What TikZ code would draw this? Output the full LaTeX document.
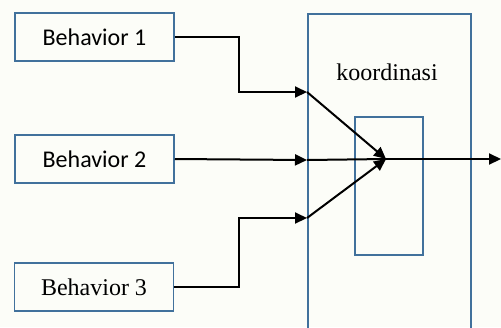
\documentclass[tikz,border=0pt]{standalone}
\usepackage{fontspec}
\setmainfont{Liberation Serif}
\newfontfamily\calfont{Carlito}
\usetikzlibrary{arrows.meta}
\definecolor{boxblue}{RGB}{65,113,156}
\definecolor{bgcol}{RGB}{252,253,248}
\begin{document}
\begin{tikzpicture}[x=0.5pt,y=-0.5pt,
  bbox/.style={draw=boxblue,line width=0.75pt,minimum width=79.5pt,minimum height=24pt,inner sep=0pt,font=\fontsize{12}{14}\selectfont},
  conn/.style={draw=black,line width=1pt},
  arr/.style={conn,-{Triangle[length=6pt,width=5.5pt]}}]
\useasboundingbox[fill=bgcol] (0,0) rectangle (501,327);
\node[bbox,font=\calfont\fontsize{12}{14}\selectfont] (b1) at (94.5,37) {Behavior 1};
\node[bbox,font=\calfont\fontsize{12}{14}\selectfont] (b2) at (94.5,159) {Behavior 2};
\node[bbox] (b3) at (94,287) {Behavior 3};
\node[draw=boxblue,line width=0.75pt,minimum width=81.5pt,minimum height=170pt,inner sep=0pt,anchor=north west] (big) at (307,13) {};
\node[draw=boxblue,line width=0.75pt,minimum width=34pt,minimum height=69pt,inner sep=0pt,anchor=north west] (inner) at (354,116) {};
\node[font=\fontsize{12}{14}\selectfont] (k) at (387,72) {koordinasi};
\coordinate (e1) at (307,92);
\coordinate (e2) at (307,160);
\coordinate (e3) at (307,218);
\coordinate (j) at (386,159);
\coordinate (out) at (501,159);
\draw[arr] (b1.east) -| (239,92) -- (e1);
\draw[arr] (b2.east) -- (e2);
\draw[arr] (b3.east) -| (239,218) -- (e3);
\draw[arr] (e1) -- (j);
\draw[arr] (e3) -- (j);
\draw[conn] (e2) -- (j);
\draw[arr] (j) -- (out);
\end{tikzpicture}
\end{document}
